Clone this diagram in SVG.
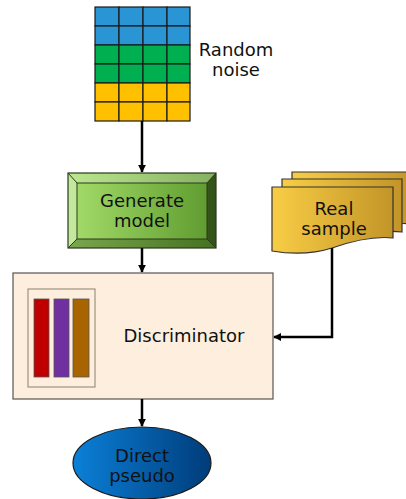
<svg xmlns="http://www.w3.org/2000/svg" width="406" height="499" viewBox="0 0 406 499">
  <style>
    .lbl { font-family: "DejaVu Sans", Verdana, sans-serif; font-size: 18px; fill: #111; text-anchor: middle; }
    .conn { fill: none; stroke: #000; stroke-width: 2.5; }
    .cell { stroke: #1a1a1a; stroke-width: 1.2; }
  </style>
  <defs>
    <marker id="arrow" viewBox="0 0 10 10" refX="9" refY="5" markerWidth="3.2" markerHeight="3.2" orient="auto" markerUnits="strokeWidth">
      <path d="M0,0 L10,5 L0,10 z" fill="#000"/>
    </marker>
    <linearGradient id="gGreen" x1="0" y1="0" x2="1" y2="0">
      <stop offset="0" stop-color="#a6de6b"/>
      <stop offset="1" stop-color="#5c982c"/>
    </linearGradient>
    <linearGradient id="gYellow" x1="0" y1="0" x2="1" y2="0">
      <stop offset="0" stop-color="#f8cd45"/>
      <stop offset="1" stop-color="#c39528"/>
    </linearGradient>
    <linearGradient id="gBlue" x1="0" y1="0" x2="1" y2="0">
      <stop offset="0" stop-color="#0b80d8"/>
      <stop offset="1" stop-color="#003c7a"/>
    </linearGradient>
  </defs>

  <!-- noise grid -->
  <g id="random-noise">
    <g class="cell">
      <rect x="95" y="7" width="24" height="19" fill="#2a95d5"/>
      <rect x="119" y="7" width="24" height="19" fill="#2a95d5"/>
      <rect x="143" y="7" width="24" height="19" fill="#2a95d5"/>
      <rect x="167" y="7" width="23" height="19" fill="#2a95d5"/>
      <rect x="95" y="26" width="24" height="19" fill="#2a95d5"/>
      <rect x="119" y="26" width="24" height="19" fill="#2a95d5"/>
      <rect x="143" y="26" width="24" height="19" fill="#2a95d5"/>
      <rect x="167" y="26" width="23" height="19" fill="#2a95d5"/>
      <rect x="95" y="45" width="24" height="19" fill="#00b050"/>
      <rect x="119" y="45" width="24" height="19" fill="#00b050"/>
      <rect x="143" y="45" width="24" height="19" fill="#00b050"/>
      <rect x="167" y="45" width="23" height="19" fill="#00b050"/>
      <rect x="95" y="64" width="24" height="19" fill="#00b050"/>
      <rect x="119" y="64" width="24" height="19" fill="#00b050"/>
      <rect x="143" y="64" width="24" height="19" fill="#00b050"/>
      <rect x="167" y="64" width="23" height="19" fill="#00b050"/>
      <rect x="95" y="83" width="24" height="19" fill="#ffc000"/>
      <rect x="119" y="83" width="24" height="19" fill="#ffc000"/>
      <rect x="143" y="83" width="24" height="19" fill="#ffc000"/>
      <rect x="167" y="83" width="23" height="19" fill="#ffc000"/>
      <rect x="95" y="102" width="24" height="19" fill="#ffc000"/>
      <rect x="119" y="102" width="24" height="19" fill="#ffc000"/>
      <rect x="143" y="102" width="24" height="19" fill="#ffc000"/>
      <rect x="167" y="102" width="23" height="19" fill="#ffc000"/>
    </g>
    <text class="lbl" x="236" y="56">Random</text>
    <text class="lbl" x="236" y="76">noise</text>
  </g>

  <!-- bevelled generator box -->
  <g id="generate-model">
    <rect x="68" y="173" width="148" height="75" fill="url(#gGreen)"/>
    <path d="M68,173 L216,173 L207,183 L77,183 Z" fill="#ffffff" fill-opacity="0.25"/>
    <path d="M68,173 L77,183 L77,239 L68,248 Z" fill="#ffffff" fill-opacity="0.35"/>
    <path d="M216,173 L216,248 L207,239 L207,183 Z" fill="#000000" fill-opacity="0.45"/>
    <path d="M68,248 L77,239 L207,239 L216,248 Z" fill="#000000" fill-opacity="0.25"/>
    <rect x="77" y="183" width="130" height="56" fill="none" stroke="#2a3a1a" stroke-width="1"/>
    <path d="M68,173 L77,183 M216,173 L207,183 M68,248 L77,239 M216,248 L207,239" stroke="#2a3a1a" stroke-width="1"/>
    <rect x="68" y="173" width="148" height="75" fill="none" stroke="#2a3a1a" stroke-width="1.2"/>
    <text class="lbl" x="142" y="207">Generate</text>
    <text class="lbl" x="142" y="227">model</text>
  </g>

  <!-- stacked documents -->
  <g id="real-sample" stroke="#333" stroke-width="1.2" fill="url(#gYellow)">
    <path d="M292,172 L413,172 L413,224 C395,222 375,226 352,234 C330,241 310,240 292,236 Z"/>
    <path d="M282,179 L402,179 L402,232 C385,230 365,233 342,241 C320,248 300,247 282,243 Z"/>
    <path d="M272,187 L393,187 L393,238 C375,236 355,240 332,248 C310,255 290,254 272,251 Z"/>
    <text class="lbl" x="334" y="215" stroke="none">Real</text>
    <text class="lbl" x="334" y="235" stroke="none">sample</text>
  </g>

  <!-- discriminator -->
  <g id="discriminator">
    <rect x="13" y="273" width="260" height="126" fill="#fdeedd" stroke="#555" stroke-width="1.2"/>
    <rect x="28" y="289" width="67" height="98" fill="none" stroke="#8a8070" stroke-width="1"/>
    <rect x="34" y="299" width="15" height="78" fill="#c00000" stroke="#555" stroke-width="0.8"/>
    <rect x="54" y="299" width="15" height="78" fill="#7030a0" stroke="#555" stroke-width="0.8"/>
    <rect x="73" y="299" width="16" height="78" fill="#a86400" stroke="#555" stroke-width="0.8"/>
    <text class="lbl" x="184" y="342">Discriminator</text>
  </g>

  <!-- output ellipse -->
  <g id="direct-pseudo">
    <ellipse cx="142" cy="463" rx="69" ry="36" fill="url(#gBlue)" stroke="#1a1a1a" stroke-width="1.2"/>
    <text class="lbl" x="142" y="462">Direct</text>
    <text class="lbl" x="142" y="482">pseudo</text>
  </g>

  <!-- connectors -->
  <g id="connectors">
    <path class="conn" d="M142,121 L142,172" marker-end="url(#arrow)"/>
    <path class="conn" d="M142,248 L142,272" marker-end="url(#arrow)"/>
    <path class="conn" d="M332,248 L332,337 L274,337" marker-end="url(#arrow)"/>
    <path class="conn" d="M142,399 L142,426" marker-end="url(#arrow)"/>
  </g>
</svg>
